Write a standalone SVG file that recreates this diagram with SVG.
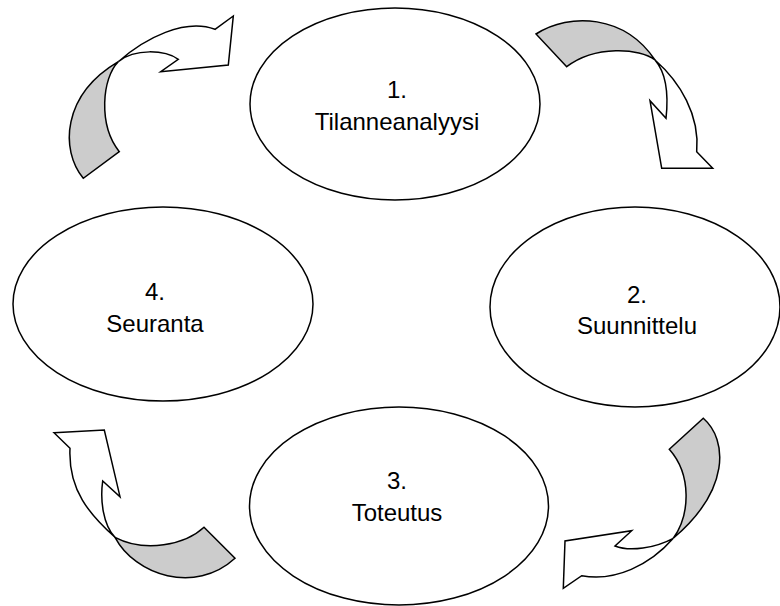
<svg xmlns="http://www.w3.org/2000/svg" width="780" height="606" viewBox="0 0 780 606">
<style>
.node ellipse{fill:#fff;stroke:#000;stroke-width:1.5}
.node text{font-family:"Liberation Sans",Arial,sans-serif;font-size:24px;fill:#000;text-anchor:middle}
.back{fill:#cccccc;stroke:#000;stroke-width:1.5;stroke-linejoin:miter}
.front{fill:#fff;stroke:#000;stroke-width:1.5;stroke-linejoin:miter}
</style>
<rect width="780" height="606" fill="#fff"/>
<g id="connectors">
<g id="arrow-1-2">
<path class="back" d="M536,34 C570,12 625,15 655,60 C640,48 595,45 566.7,66.7 Z"/>
<path class="front" d="M655,60 C680,82 700,115 696.7,151.7 L712.7,168.3 L661.7,168.3 L650,100.7 L666,118.3 C668,100 668,75 655,60 Z"/>
</g>
<g id="arrow-2-3">
<path class="back" d="M703.3,418.3 C728,440 730,490 673.3,538.3 C690,515 692,475 669.3,449.3 Z"/>
<path class="front" d="M673.3,538.3 C650,565 615,582 581.7,575.7 L563.3,588.3 L565,541 L631.7,530.7 L615,546 C630,552 655,548 673.3,538.3 Z"/>
</g>
<g id="arrow-3-4">
<path class="back" d="M115,537.3 C135,575 195,595 235,558.3 L204,527.3 C185,545 145,553 115,537.3 Z"/>
<path class="front" d="M54,432.7 L104.3,430 L120,496.7 L102.7,481 C100,500 103,525 115,537.3 C90,515 68,490 70,448.3 Z"/>
</g>
<g id="arrow-4-1">
<path class="back" d="M83.3,178.3 C60,150 62,95 118.3,61.7 C102,78 98,125 119.3,151.7 Z"/>
<path class="front" d="M118.3,61.7 C145,38 185,18 215,29.3 L233.3,16 L228.3,65 L160.7,71.7 L178.3,59.3 C165,50 135,48 118.3,61.7 Z"/>
</g>
</g>
<g id="node1" class="node">
<ellipse cx="395" cy="104" rx="145" ry="96"/>
<text x="397" y="98">1.</text>
<text x="397" y="130">Tilanneanalyysi</text>
</g>
<g id="node2" class="node">
<ellipse cx="635" cy="307" rx="145" ry="100"/>
<text x="637" y="303">2.</text>
<text x="637" y="334">Suunnittelu</text>
</g>
<g id="node3" class="node">
<ellipse cx="399" cy="506" rx="149.5" ry="99"/>
<text x="397" y="489">3.</text>
<text x="397" y="521">Toteutus</text>
</g>
<g id="node4" class="node">
<ellipse cx="163" cy="304" rx="150" ry="97"/>
<text x="155" y="300">4.</text>
<text x="155" y="332">Seuranta</text>
</g>
</svg>
